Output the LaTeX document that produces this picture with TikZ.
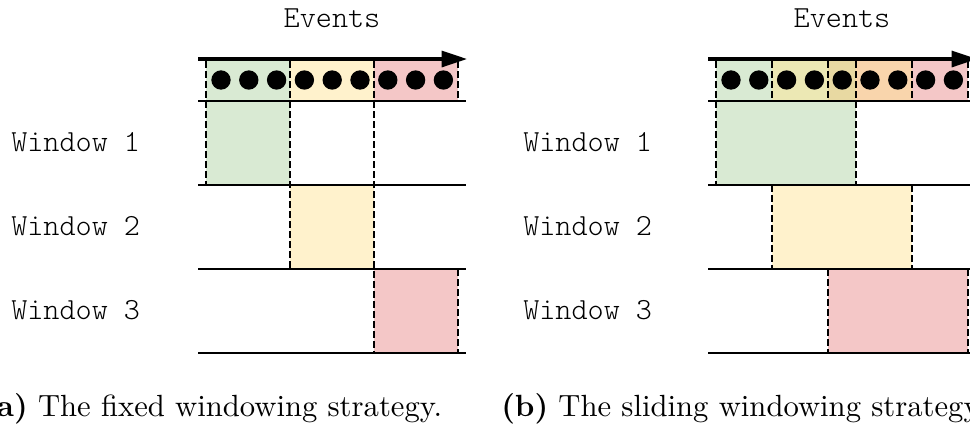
\documentclass[tikz,border=0pt]{standalone}
\usepackage{fontspec}
\setmainfont{lmroman10-regular.otf}[BoldFont=lmroman10-bold.otf]
\newfontfamily\monof{lmmonolt10-regular.otf}
\usetikzlibrary{arrows.meta}
\definecolor{cgreen}{RGB}{217,234,211}
\definecolor{cyellow}{RGB}{255,242,204}
\definecolor{cred}{RGB}{244,199,199}
\definecolor{cgy}{RGB}{236,232,180}
\definecolor{ctan}{RGB}{232,217,162}
\definecolor{corange}{RGB}{249,213,172}
\tikzset{
  axisline/.style={line width=2.3pt,-{Triangle[length=19pt,width=12pt]}},
  rowline/.style={line width=1.5pt},
  dashline/.style={line width=1.4pt,dash pattern=on 5pt off 2.5pt},
  monolabel/.style={font=\monof\fontsize{23}{27}\selectfont,inner sep=0pt},
  caplabel/.style={font=\fontsize{23}{28}\selectfont,inner sep=0pt},
  evdot/.style={circle,fill=black,minimum size=14.5pt,inner sep=0pt},
}
\begin{document}
\begin{tikzpicture}[x=0.75pt,y=-0.75pt]
\useasboundingbox (0,0) rectangle (970,426);
% ---------- left panel: fixed ----------
\fill[cgreen] (206,60) rectangle (290,101);
\fill[cyellow] (290,60) rectangle (374,101);
\fill[cred] (374,60) rectangle (458,101);
\fill[cgreen] (206,101) rectangle (290,185);
\fill[cyellow] (290,185) rectangle (374,269);
\fill[cred] (374,269) rectangle (458,353);
\foreach \k in {0,...,8} {
  \node[evdot] (la\k) at ({221+27.8*\k},80) {};
}
\coordinate (lA0) at (198,59); \coordinate (lA1) at (467,59);
\draw[axisline] (lA0) -- (lA1);
\foreach \yy/\nm in {101/a,185/b,269/c,353/d} {
  \coordinate (lh\nm0) at (198,\yy); \coordinate (lh\nm1) at (466,\yy);
  \draw[rowline] (lh\nm0) -- (lh\nm1);
}
\draw[dashline] (206,61) -- (206,185);
\draw[dashline] (290,61) -- (290,269);
\draw[dashline] (374,61) -- (374,353);
\draw[dashline] (458,61) -- (458,101);
\draw[dashline] (458,269) -- (458,353);
\node[monolabel,anchor=base] (lev) at (332,27) {Events};
\node[monolabel,anchor=base west] (lw1) at (11,151) {Window 1};
\node[monolabel,anchor=base west] (lw2) at (11,235) {Window 2};
\node[monolabel,anchor=base west] (lw3) at (11,319) {Window 3};
\node[caplabel,anchor=base west] (lcap) at (-17,416) {\textbf{(a)} The fixed windowing strategy.};
% ---------- right panel: sliding ----------
\fill[cgreen] (716,60) rectangle (772,101);
\fill[cgy] (772,60) rectangle (828,101);
\fill[ctan] (828,60) rectangle (856,101);
\fill[corange] (856,60) rectangle (912,101);
\fill[cred] (912,60) rectangle (968,101);
\fill[cgreen] (716,101) rectangle (856,185);
\fill[cyellow] (772,185) rectangle (912,269);
\fill[cred] (828,269) rectangle (968,353);
\foreach \k in {0,...,8} {
  \node[evdot] (ra\k) at ({731+27.8*\k},80) {};
}
\coordinate (rA0) at (708,59); \coordinate (rA1) at (977,59);
\draw[axisline] (rA0) -- (rA1);
\foreach \yy/\nm in {101/a,185/b,269/c,353/d} {
  \coordinate (rh\nm0) at (708,\yy); \coordinate (rh\nm1) at (976,\yy);
  \draw[rowline] (rh\nm0) -- (rh\nm1);
}
\draw[dashline] (716,61) -- (716,185);
\draw[dashline] (772,61) -- (772,101);
\draw[dashline] (772,185) -- (772,269);
\draw[dashline] (828,61) -- (828,101);
\draw[dashline] (828,269) -- (828,353);
\draw[dashline] (856,61) -- (856,185);
\draw[dashline] (912,61) -- (912,101);
\draw[dashline] (912,185) -- (912,269);
\draw[dashline] (968,61) -- (968,101);
\draw[dashline] (968,269) -- (968,353);
\node[monolabel,anchor=base] (rev) at (842,27) {Events};
\node[monolabel,anchor=base west] (rw1) at (523,151) {Window 1};
\node[monolabel,anchor=base west] (rw2) at (523,235) {Window 2};
\node[monolabel,anchor=base west] (rw3) at (523,319) {Window 3};
\node[caplabel,anchor=base west] (rcap) at (501,416) {\textbf{(b)} The sliding windowing strategy.};
\end{tikzpicture}
\end{document}
